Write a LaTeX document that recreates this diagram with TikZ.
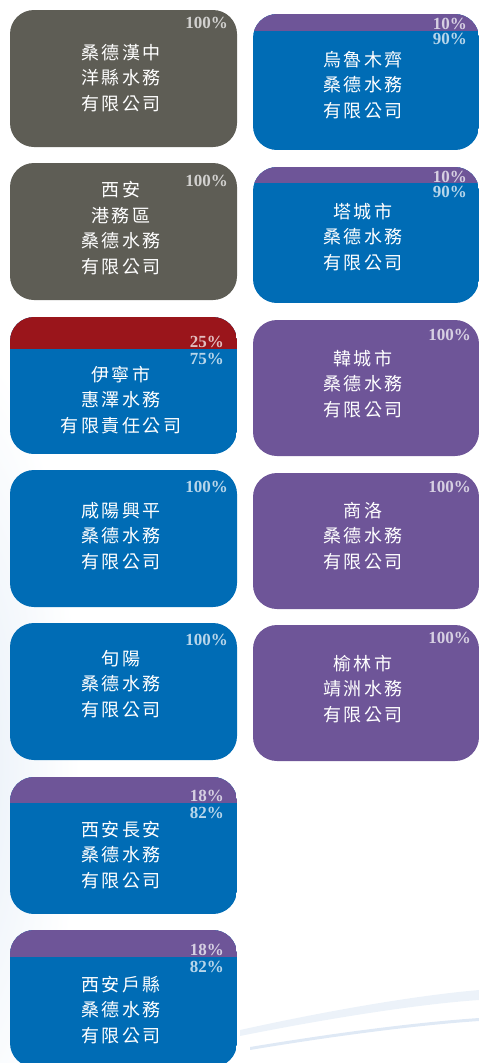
\documentclass[tikz,border=0pt]{standalone}
\usepackage{fontspec}
\newfontfamily\cjkfont[LetterSpace=14]{Noto Sans CJK TC}
\newfontfamily\pctfont{Liberation Serif}
\definecolor{stonegray}{HTML}{5E5D55}
\definecolor{waterblue}{HTML}{006CB5}
\definecolor{dukepurple}{HTML}{6E5598}
\definecolor{darkred}{HTML}{9A151B}
\definecolor{haze}{HTML}{C9DBEF}

\begin{document}
\begin{tikzpicture}[x=1pt,y=-1pt,
  card/.style={rounded corners=24},
  compname/.style={text=white,align=center,font=\cjkfont\fontsize{18}{25.5}\selectfont},
  pct/.style={anchor=base east,inner sep=0pt,text=white,text opacity=0.72,font=\pctfont\bfseries\fontsize{17}{17}\selectfont}]
  \useasboundingbox (0,0) rectangle (479,1063);
  % faint background
  \shade[inner color=haze!45,outer color=white] (-40,760) ellipse (120 and 420);
  \fill[haze,opacity=0.35] (240,1030) .. controls (330,1010) and (420,995) .. (479,990) -- (479,1000) .. controls (420,1004) and (330,1018) .. (240,1036) -- cycle;
  \fill[haze,opacity=0.6] (250,1047) .. controls (340,1032) and (420,1022) .. (479,1018) -- (479,1021) .. controls (420,1025) and (340,1035) .. (250,1050) -- cycle;

  % left column
  \fill[card,stonegray] (10,10) rectangle ++(227,137);
  \node[compname] (hanzhong) at (121,78) {桑德漢中\\洋縣水務\\有限公司};
  \node[pct] (hanzhong-p) at (228,28) {100\%};

  \fill[card,stonegray] (10,163) rectangle ++(227,137);
  \node[compname] (xian-port) at (121,228) {西安\\港務區\\桑德水務\\有限公司};
  \node[pct] (xian-port-p) at (228,186) {100\%};

  \begin{scope}
    \clip[card] (10,317) rectangle ++(227,137);
    \fill[waterblue] (10,317) rectangle ++(227,137);
    \fill[darkred] (10,317) rectangle ++(227,32);
  \end{scope}
  \node[compname] (yining) at (121,400) {伊寧市\\惠澤水務\\有限責任公司};
  \node[pct] (yining-p1) at (224,347) {25\%};
  \node[pct] (yining-p2) at (224,364) {75\%};

  \fill[card,waterblue] (10,470) rectangle ++(227,137);
  \node[compname] (xingping) at (121,536) {咸陽興平\\桑德水務\\有限公司};
  \node[pct] (xingping-p) at (228,492) {100\%};

  \fill[card,waterblue] (10,623) rectangle ++(227,137);
  \node[compname] (xunyang) at (121,684) {旬陽\\桑德水務\\有限公司};
  \node[pct] (xunyang-p) at (228,645) {100\%};

  \begin{scope}
    \clip[card] (10,777) rectangle ++(227,137);
    \fill[waterblue] (10,777) rectangle ++(227,137);
    \fill[dukepurple] (10,777) rectangle ++(227,26);
  \end{scope}
  \node[compname] (changan) at (121,855) {西安長安\\桑德水務\\有限公司};
  \node[pct] (changan-p1) at (224,801) {18\%};
  \node[pct] (changan-p2) at (224,818) {82\%};

  \begin{scope}
    \clip[card] (10,930) rectangle ++(227,137);
    \fill[waterblue] (10,930) rectangle ++(227,137);
    \fill[dukepurple] (10,930) rectangle ++(227,27);
  \end{scope}
  \node[compname] (huxian) at (121,1010) {西安戶縣\\桑德水務\\有限公司};
  \node[pct] (huxian-p1) at (224,955) {18\%};
  \node[pct] (huxian-p2) at (224,972) {82\%};

  % right column
  \begin{scope}
    \clip[card] (253,14) rectangle ++(226,136);
    \fill[waterblue] (253,14) rectangle ++(226,136);
    \fill[dukepurple] (253,14) rectangle ++(226,17);
  \end{scope}
  \node[compname] (urumqi) at (363,85) {烏魯木齊\\桑德水務\\有限公司};
  \node[pct] (urumqi-p1) at (467,29) {10\%};
  \node[pct] (urumqi-p2) at (467,44) {90\%};

  \begin{scope}
    \clip[card] (253,167) rectangle ++(226,136);
    \fill[waterblue] (253,167) rectangle ++(226,136);
    \fill[dukepurple] (253,167) rectangle ++(226,16);
  \end{scope}
  \node[compname] (tacheng) at (363,237) {塔城市\\桑德水務\\有限公司};
  \node[pct] (tacheng-p1) at (467,182) {10\%};
  \node[pct] (tacheng-p2) at (467,197) {90\%};

  \fill[card,dukepurple] (253,320) rectangle ++(226,136);
  \node[compname] (hancheng) at (363,384) {韓城市\\桑德水務\\有限公司};
  \node[pct] (hancheng-p) at (471,340) {100\%};

  \fill[card,dukepurple] (253,473) rectangle ++(226,136);
  \node[compname] (shangluo) at (363,536) {商洛\\桑德水務\\有限公司};
  \node[pct] (shangluo-p) at (471,492) {100\%};

  \fill[card,dukepurple] (253,625) rectangle ++(226,136);
  \node[compname] (yulin) at (363,689) {榆林市\\靖洲水務\\有限公司};
  \node[pct] (yulin-p) at (471,643) {100\%};
\end{tikzpicture}
\end{document}
